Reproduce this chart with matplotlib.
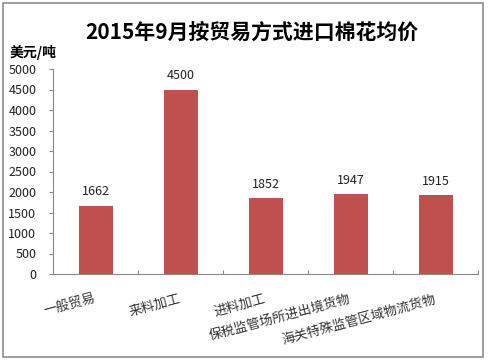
import matplotlib.pyplot as plt
from matplotlib.patches import Rectangle

plt.rcParams['font.family'] = ['Noto Sans CJK SC', 'DejaVu Sans']

# Data
categories = ['一般贸易', '来料加工', '进料加工', '保税监管场所进出境货物', '海关特殊监管区域物流货物']
prices = [1662, 4500, 1852, 1947, 1915]
yticks = [0, 500, 1000, 1500, 2000, 2500, 3000, 3500, 4000, 4500, 5000]

W, H = 489, 363
fig = plt.figure(figsize=(W / 100, H / 100), dpi=100)
fig.patch.set_facecolor('white')

# outer frame
fig.patches.append(Rectangle((3 / W, 1 - 357 / H), 480 / W, 354 / H, transform=fig.transFigure,
                             fill=False, edgecolor='#8c8c8c', linewidth=1.2))

ax = fig.add_axes([53 / W, 1 - 274 / H, 425 / W, 205 / H])
x = range(len(categories))
ax.bar(x, prices, width=0.4, color='#C0504D')
ax.set_xlim(-0.5, len(categories) - 0.5)
ax.set_ylim(0, 5000)
ax.set_yticks(yticks)
ax.set_yticklabels([str(v) for v in yticks], fontsize=9, color='#222222')
ax.tick_params(axis='y', length=3, color='#888888', pad=9)

ax.set_xticks([i + 0.5 for i in range(len(categories))])
ax.set_xticklabels([])
ax.tick_params(axis='x', length=3, color='#888888', direction='in')
ax.spines[['top', 'right']].set_visible(False)
ax.spines['left'].set_color('#888888')
ax.spines['bottom'].set_color('#888888')

for i, v in enumerate(prices):
    ax.text(i, v + 180, str(v), ha='center', va='bottom', fontsize=9, color='#222222')

for i, c in enumerate(categories):
    ax.annotate(c, xy=(i, 0), xytext=(0, -18), textcoords='offset points',
                ha='right', va='center', rotation=15, rotation_mode='anchor',
                fontsize=9.5, color='#333333')

fig.text(252 / W, 1 - 32 / H, '2015年9月按贸易方式进口棉花均价', ha='center', va='center',
         fontsize=15, fontweight='bold')
fig.text(10 / W, 1 - 52 / H, '美元/吨', ha='left', va='center', fontsize=10, fontweight='bold')

fig.savefig('out.png', dpi=100)
